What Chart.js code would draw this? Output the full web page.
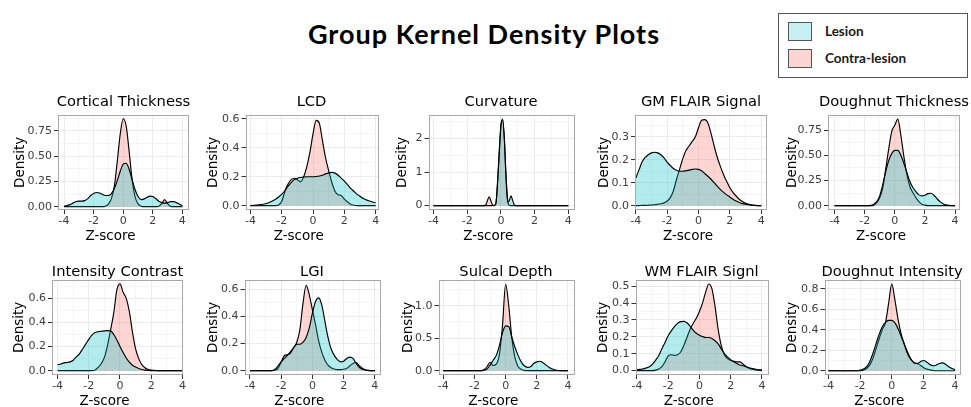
<!DOCTYPE html>
<html>
<head>
<meta charset="utf-8">
<script src="https://cdn.jsdelivr.net/npm/chart.js@4.4.1/dist/chart.umd.min.js"></script>
<style>
  body { margin: 0; background: #fff; width: 971px; height: 407px; position: relative; overflow: hidden; font-family: 'DejaVu Sans', sans-serif; }
  canvas { position: absolute; }
  .ptitle { position: absolute; width: 220px; text-align: center; font-size: 14.7px; line-height: 17px; white-space: nowrap; color: #000; }
  #title { position: absolute; left: 0; width: 968px; top: 18px; text-align: center; font-family: Lato, sans-serif; font-weight: 700; font-size: 27px; letter-spacing: 1px; line-height: 32px; color: #000; }
  #legend { position: absolute; left: 778px; top: 13px; width: 188px; height: 63px; border: 1px solid #555; background: #fff; }
  .lg-row { position: absolute; left: 9px; height: 19px; }
  .lg-box { position: absolute; left: 0; top: 0; width: 22px; height: 17px; border: 1px solid #555; }
  .lg-txt { position: absolute; left: 37px; top: 1px; font-family: Lato, sans-serif; font-weight: 700; font-size: 13.5px; line-height: 16px; white-space: nowrap; color: #1a1a1a; }
</style>
</head>
<body>
<div id="title">Group Kernel Density Plots</div>
<div id="legend"></div>
<script>
// ---- data ----
const seriesNames = ['Lesion', 'Contra-lesion'];
const seriesFill = ['rgba(0,191,196,0.3)', 'rgba(248,118,109,0.3)'];
const legendFill = ['rgba(0,191,196,0.22)', 'rgba(248,118,109,0.3)'];

const panelTitles = ['Cortical Thickness', 'LCD', 'Curvature', 'GM FLAIR Signal', 'Doughnut Thickness',
                     'Intensity Contrast', 'LGI', 'Sulcal Depth', 'WM FLAIR Signl', 'Doughnut Intensity'];

const xTicks = [-4, -2, 0, 2, 4];
const xTickLabels = ['-4', '-2', '0', '2', '4'];

// z-score grid the densities were read at
const zGrid = [-4.0, -3.8, -3.6, -3.4, -3.2, -3.0, -2.8, -2.6, -2.4, -2.2,
               -2.0, -1.8, -1.6, -1.4, -1.2, -1.0, -0.8, -0.6, -0.4, -0.2,
               0.0, 0.2, 0.4, 0.6, 0.8, 1.0, 1.2, 1.4, 1.6, 1.8,
               2.0, 2.2, 2.4, 2.6, 2.8, 3.0, 3.2, 3.4, 3.6, 3.8, 4.0];
const curvGrid = [-4, -1.0, -0.9, -0.8, -0.7, -0.6, -0.5, -0.4, -0.3, -0.2, -0.1,
                  0, 0.1, 0.2, 0.3, 0.4, 0.5, 0.6, 0.7, 0.8, 0.9, 1.0, 4];

const ctLesion = [.005, .01, .02, .035, .05, .055, .055, .06, .08, .11,
                  .13, .14, .135, .12, .11, .11, .13, .18, .26, .35,
                  .42, .43, .37, .27, .17, .10, .07, .075, .09, .105,
                  .10, .08, .055, .04, .035, .04, .05, .05, .04, .025, .01];
const ctContra = [0, 0, 0, 0, 0, 0, 0, 0, 0, 0,
                  0, 0, 0, 0, .005, .025, .08, .2, .45, .72,
                  .87, .8, .55, .27, .1, .03, .005, 0, 0, 0,
                  0, 0, .005, .03, .07, .03, .005, 0, 0, 0, 0];

const lcdLesion = [0, .002, .004, .007, .01, .015, .022, .032, .045, .06,
                   .08, .105, .135, .16, .18, .19, .195, .198, .2, .2,
                   .2, .202, .205, .21, .22, .227, .23, .225, .21, .19,
                   .17, .145, .12, .1, .08, .065, .05, .04, .032, .025, .02];
const lcdContra = [0, 0, 0, 0, 0, 0, 0, 0, 0, .005,
                   .03, .1, .15, .18, .19, .18, .165, .2, .27, .37,
                   .5, .59, .57, .45, .33, .24, .16, .1, .075, .07,
                   .045, .025, .01, .003, 0, 0, 0, 0, 0, 0, 0];

const curvLesion = [0, 0, 0, 0, 0, 0, 0, .005, .06, .7, 1.6,
                    2.4, 2.58, 2.0, .85, .1, .15, .29, .15, .02, 0, 0, 0];
const curvContra = [0, 0, .02, .15, .26, .15, .02, 0, .06, .65, 1.55,
                    2.35, 2.55, 2.05, .95, .18, .01, 0, 0, 0, 0, 0, 0];

const gmLesion = [.12, .155, .19, .21, .222, .23, .233, .23, .222, .208,
                  .19, .175, .162, .154, .15, .15, .152, .155, .158, .16,
                  .158, .152, .14, .128, .115, .1, .085, .07, .058, .047,
                  .038, .028, .02, .014, .009, .006, .004, .002, .001, 0, 0];
const gmContra = [0, 0, .001, .001, .002, .003, .004, .006, .008, .012,
                  .02, .035, .065, .115, .16, .205, .24, .26, .28, .3,
                  .34, .372, .375, .36, .315, .26, .21, .17, .135, .105,
                  .078, .058, .042, .028, .018, .01, .006, .003, .001, 0, 0];

const dtLesion = [0, 0, 0, 0, 0, 0, 0, 0, 0, 0,
                  0, 0, .003, .015, .04, .1, .21, .34, .45, .52,
                  .55, .55, .5, .42, .33, .24, .18, .14, .107, .097,
                  .104, .12, .123, .104, .07, .04, .02, .008, .003, 0, 0];
const dtContra = [0, 0, 0, 0, 0, 0, 0, 0, 0, 0,
                  0, 0, 0, .005, .03, .08, .18, .37, .57, .74,
                  .8, .86, .7, .49, .31, .19, .13, .08, .04, .015,
                  .005, 0, 0, 0, 0, 0, 0, 0, 0, 0, 0];

const icLesion = [.05, .055, .065, .068, .073, .087, .115, .14, .18, .22,
                  .26, .295, .316, .324, .327, .33, .332, .33, .3, .255,
                  .2, .15, .105, .07, .045, .03, .018, .01, .005, .002,
                  0, 0, 0, 0, 0, 0, 0, 0, 0, 0, 0];
const icContra = [0, 0, 0, 0, 0, 0, 0, 0, 0, 0,
                  0, 0, .005, .027, .06, .11, .21, .34, .48, .67,
                  .72, .65, .6, .49, .32, .18, .1, .05, .024, .01,
                  .004, .002, 0, 0, 0, 0, 0, 0, 0, 0, 0];

const lgiLesion = [0, 0, 0, 0, 0, 0, 0, 0, .01, .036,
                   .065, .09, .113, .14, .17, .195, .195, .21, .245, .315,
                   .425, .51, .537, .485, .365, .245, .16, .113, .082, .065,
                   .07, .09, .1, .09, .053, .024, .01, .003, 0, 0, 0];
const lgiContra = [0, 0, 0, 0, 0, 0, 0, 0, .003, .017,
                   .065, .11, .118, .13, .17, .21, .305, .5, .63, .56,
                   .45, .34, .22, .137, .077, .04, .022, .012, .008, .008,
                   .01, .017, .036, .053, .06, .036, .017, .007, .002, 0, 0];

const sdLesion = [0, 0, 0, 0, 0, 0, 0, 0, 0, 0,
                  0, 0, 0, .005, .025, .085, .16, .235, .385, .585,
                  .69, .68, .51, .36, .235, .135, .075, .05, .06, .11,
                  .135, .145, .12, .085, .05, .025, .01, .003, 0, 0, 0];
const sdContra = [0, 0, 0, 0, 0, 0, 0, 0, 0, 0,
                  0, 0, 0, .015, .06, .13, .08, .1, .25, .7,
                  1.33, 1.0, .5, .2, .065, .02, .005, 0, 0, 0,
                  0, 0, 0, 0, 0, 0, 0, 0, 0, 0, 0];

const wmLesion = [.004, .007, .01, .016, .023, .038, .062, .09, .13, .167,
                  .206, .235, .26, .28, .29, .292, .283, .263, .24, .221,
                  .21, .202, .196, .196, .19, .177, .158, .129, .1, .081,
                  .065, .052, .042, .033, .029, .023, .017, .012, .008, .005, .004];
const wmContra = [0, 0, 0, 0, 0, 0, .003, .01, .023, .052,
                  .087, .094, .09, .094, .11, .148, .196, .244, .279, .31,
                  .35, .4, .465, .513, .485, .38, .244, .148, .094, .071,
                  .06, .056, .052, .052, .038, .023, .013, .008, .004, .002, 0];

const diLesion = [0, 0, 0, 0, 0, 0, 0, 0, 0, 0,
                  .006, .016, .038, .086, .165, .26, .355, .43, .473, .492,
                  .492, .467, .41, .333, .25, .165, .11, .08, .07, .086,
                  .1, .086, .06, .048, .054, .07, .076, .063, .038, .022, .01];
const diContra = [0, 0, 0, 0, 0, 0, 0, 0, 0, 0,
                  0, .006, .022, .054, .117, .213, .31, .403, .467, .657,
                  .848, .69, .5, .355, .26, .18, .117, .076, .07, .054,
                  .032, .016, .008, .003, 0, 0, 0, 0, 0, 0, 0];

// density axis ticks per panel
const tk075 = [0, 0.25, 0.5, 0.75], tk075Labels = ['0.00', '0.25', '0.50', '0.75'];
const tk06 = [0, 0.2, 0.4, 0.6], tk06Labels = ['0.0', '0.2', '0.4', '0.6'];
const tk2 = [0, 1, 2], tk2Labels = ['0', '1', '2'];
const tk03 = [0, 0.1, 0.2, 0.3], tk03Labels = ['0.0', '0.1', '0.2', '0.3'];
const tk1 = [0, 0.5, 1.0], tk1Labels = ['0.0', '0.5', '1.0'];
const tk05 = [0, 0.1, 0.2, 0.3, 0.4, 0.5], tk05Labels = ['0.0', '0.1', '0.2', '0.3', '0.4', '0.5'];
const tk08 = [0, 0.2, 0.4, 0.6, 0.8], tk08Labels = ['0.0', '0.2', '0.4', '0.6', '0.8'];

// ---- layout ----
const rows = [{ top: 114, bottom: 210, titleTop: 92 }, { top: 279, bottom: 375, titleTop: 262 }];
const padT = 8, padR = 4, padB = 35;

const panels = [
  { row: 0, L: 58, R: 189, yOff: 38, xr: [-4.41, 4.45], yr: [-0.033, 0.911], grid: zGrid, a: ctLesion, b: ctContra, yt: tk075, yl: tk075Labels },
  { row: 0, L: 245, R: 378, yOff: 32.5, xr: [-4.32, 4.15], yr: [-0.03, 0.63], grid: zGrid, a: lcdLesion, b: lcdContra, yt: tk06, yl: tk06Labels },
  { row: 0, L: 428, R: 574, yOff: 26.5, xr: [-4.3, 4.34], yr: [-0.13, 2.71], grid: curvGrid, a: curvLesion, b: curvContra, yt: tk2, yl: tk2Labels },
  { row: 0, L: 635, R: 767, yOff: 31, xr: [-4.05, 4.37], yr: [-0.019, 0.397], grid: zGrid, a: gmLesion, b: gmContra, yt: tk03, yl: tk03Labels },
  { row: 0, L: 828, R: 960, yOff: 36, xr: [-4.44, 4.33], yr: [-0.043, 0.905], grid: zGrid, a: dtLesion, b: dtContra, yt: tk075, yl: tk075Labels },
  { row: 1, L: 52, R: 183, yOff: 33, xr: [-4.36, 4.04], yr: [-0.036, 0.756], grid: zGrid, a: icLesion, b: icContra, yt: tk06, yl: tk06Labels },
  { row: 1, L: 244, R: 380, yOff: 31.5, xr: [-4.35, 4.33], yr: [-0.032, 0.672], grid: zGrid, a: lgiLesion, b: lgiContra, yt: tk06, yl: tk06Labels },
  { row: 1, L: 438, R: 574, yOff: 30.5, xr: [-4.31, 4.39], yr: [-0.067, 1.402], grid: zGrid, a: sdLesion, b: sdContra, yt: tk1, yl: tk1Labels },
  { row: 1, L: 635, R: 768, yOff: 32.5, xr: [-4.09, 4.39], yr: [-0.026, 0.539], grid: zGrid, a: wmLesion, b: wmContra, yt: tk05, yl: tk05Labels },
  { row: 1, L: 824, R: 960, yOff: 32.5, xr: [-4.25, 4.31], yr: [-0.042, 0.89], grid: zGrid, a: diLesion, b: diContra, yt: tk08, yl: tk08Labels }
];

Chart.defaults.font.family = "'DejaVu Sans', sans-serif";

// legend
const legend = document.getElementById('legend');
seriesNames.forEach((name, i) => {
  const row = document.createElement('div');
  row.className = 'lg-row';
  row.style.top = (8 + i * 26.5) + 'px';
  row.innerHTML = '<div class="lg-box" style="background:' + legendFill[i] + '"></div><div class="lg-txt">' + name + '</div>';
  legend.appendChild(row);
});

// grey panel frame on top of the grid
const framePlugin = {
  id: 'frame',
  afterDraw(chart) {
    const { ctx, chartArea: a } = chart;
    ctx.save();
    ctx.strokeStyle = '#a8a8a8';
    ctx.lineWidth = 1;
    ctx.strokeRect(Math.round(a.left) + 0.5, Math.round(a.top) + 0.5, Math.round(a.right - a.left) - 1, Math.round(a.bottom - a.top) - 1);
    ctx.restore();
  }
};

// x axis title (sits a little left of the panel centre in the reference)
const xTitlePlugin = {
  id: 'xTitle',
  afterDraw(chart, args, opts) {
    const { ctx, chartArea: a } = chart;
    ctx.save();
    ctx.font = "13.5px 'DejaVu Sans'";
    ctx.fillStyle = '#000';
    ctx.textAlign = 'center';
    ctx.textBaseline = 'middle';
    ctx.fillText(opts.text, (a.left + a.right) / 2 + opts.shift, a.bottom + 26.5);
    ctx.restore();
  }
};

function withMinor(major, lo, hi) {
  const step = major[1] - major[0];
  const out = [];
  for (let v = major[0] - step / 2; v <= hi; v += step / 2) {
    if (v >= lo) out.push(v);
  }
  return out;
}

panels.forEach((p, idx) => {
  const r = rows[p.row];
  const padL = p.yOff + 8;
  const cv = document.createElement('canvas');
  const w = padL + (p.R - p.L) + padR;
  const h = padT + (r.bottom - r.top) + padB;
  cv.width = w; cv.height = h;
  cv.style.left = (p.L - padL) + 'px';
  cv.style.top = (r.top - padT) + 'px';
  cv.style.width = w + 'px'; cv.style.height = h + 'px';
  document.body.appendChild(cv);

  const t = document.createElement('div');
  t.className = 'ptitle';
  t.textContent = panelTitles[idx];
  t.style.left = ((p.L + p.R) / 2 - 110) + 'px';
  t.style.top = r.titleTop + 'px';
  document.body.appendChild(t);

  const xAll = withMinor(xTicks, p.xr[0], p.xr[1]);
  const yAll = withMinor(p.yt, p.yr[0], p.yr[1]);
  const isMajorX = v => xTicks.some(m => Math.abs(m - v) < 1e-9);
  const isMajorY = v => p.yt.some(m => Math.abs(m - v) < 1e-9);

  const ds = (vals, i) => ({
    label: seriesNames[i],
    data: p.grid.map((x, k) => ({ x: x, y: vals[k] })),
    fill: 'origin',
    backgroundColor: seriesFill[i],
    borderColor: '#000',
    borderWidth: 1.15,
    pointRadius: 0,
    cubicInterpolationMode: 'monotone',
    order: i
  });

  new Chart(cv, {
    type: 'line',
    data: { datasets: [ds(p.a, 0), ds(p.b, 1)] },
    plugins: [framePlugin, xTitlePlugin],
    options: {
      responsive: false,
      animation: false,
      devicePixelRatio: 1,
      layout: { padding: { top: padT, right: padR, left: 0, bottom: 0 } },
      plugins: {
        legend: { display: false },
        tooltip: { enabled: false },
        xTitle: { text: 'Z-score', shift: -13 }
      },
      scales: {
        x: {
          type: 'linear', bounds: 'data', min: p.xr[0], max: p.xr[1],
          afterBuildTicks: s => { s.ticks = xAll.map(v => ({ value: v })); },
          afterFit: s => { s.height = padB; },
          ticks: {
            autoSkip: false, maxRotation: 0, padding: 1, color: '#3d3d3d', font: { size: 11 },
            callback: v => { const k = xTicks.findIndex(m => Math.abs(m - v) < 1e-9); return k < 0 ? '' : xTickLabels[k]; }
          },
          grid: {
            color: c => isMajorX(c.tick.value) ? '#ebebeb' : '#f5f5f5',
            tickColor: c => isMajorX(c.tick.value) ? '#333' : 'rgba(0,0,0,0)',
            tickLength: 4, lineWidth: 1
          },
          border: { display: false }
        },
        y: {
          type: 'linear', bounds: 'data', min: p.yr[0], max: p.yr[1],
          afterBuildTicks: s => { s.ticks = yAll.map(v => ({ value: v })); },
          afterFit: s => { s.width = padL; },
          ticks: {
            autoSkip: false, padding: 2, color: '#3d3d3d', font: { size: 11 },
            callback: v => { const k = p.yt.findIndex(m => Math.abs(m - v) < 1e-9); return k < 0 ? '' : p.yl[k]; }
          },
          grid: {
            color: c => isMajorY(c.tick.value) ? '#ebebeb' : '#f5f5f5',
            tickColor: c => isMajorY(c.tick.value) ? '#333' : 'rgba(0,0,0,0)',
            tickLength: 4, lineWidth: 1
          },
          border: { display: false },
          title: { display: true, text: 'Density', color: '#000', font: { size: 13.5 }, padding: 0 }
        }
      }
    }
  });
});
</script>
</body>
</html>
